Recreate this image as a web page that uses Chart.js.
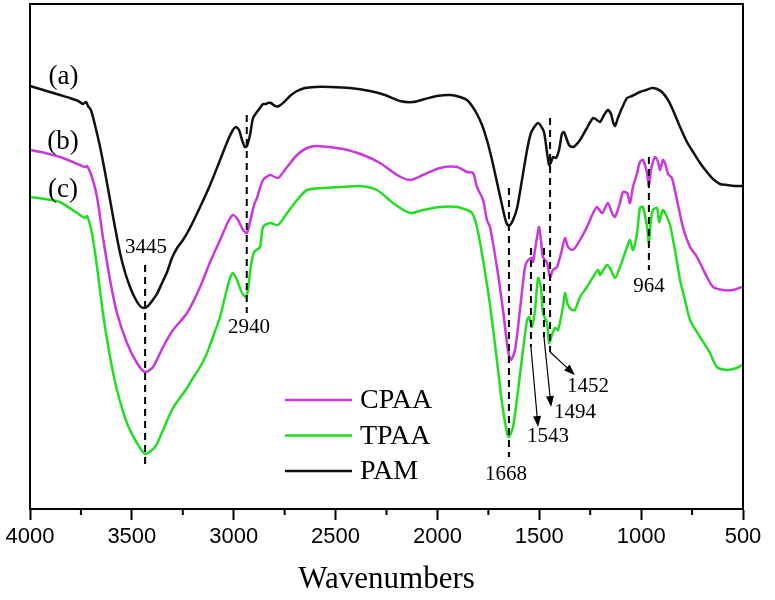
<!DOCTYPE html>
<html>
<head>
<meta charset="utf-8">
<script src="https://cdn.jsdelivr.net/npm/chart.js@4"></script>
<style>
  html, body { margin: 0; padding: 0; background: #fff; }
</style>
</head>
<body>
<canvas id="myChart" width="775" height="600"></canvas>
<script>
// wavenumbers (cm-1) and relative transmittance (arbitrary units)
const pamWn = [4000,3951,3902,3853,3804,3764,3740,3725,3715,3701,3681,3656,3632,3607,3583,3558,3534,3509,3485,3460,3440,3421,3401,3377,3352,3327,3303,3278,3249,3215,3165,3116,3067,3028,3004,2989,2974,2959,2945,2935,2920,2905,2886,2871,2856,2842,2832,2817,2797,2778,2753,2724,2689,2650,2601,2527,2429,2331,2257,2184,2120,2061,2002,1938,1889,1855,1830,1806,1781,1757,1732,1708,1683,1663,1649,1629,1609,1585,1560,1541,1521,1506,1492,1477,1467,1452,1442,1433,1418,1403,1389,1379,1369,1354,1339,1325,1300,1266,1236,1217,1202,1182,1163,1148,1138,1128,1114,1094,1069,1045,1006,976,947,922,898,868,844,809,775,745,711,677,647,613,579,539,505];
const pamT = [423,420,417,414,411,408,405,407,403,399,384,362,337,309,282,256,237,222,211,203,201,203,208,215,226,237,251,261,269,281,302,324,349,369,379,382,379,369,362,363,374,391,397,401,405,405,406,406,403,403,407,413,418,421,422,422,421,418,414,408,407,410,413,414,412,409,403,395,384,369,349,327,304,287,283,289,301,329,359,376,383,386,383,377,364,344,347,352,351,359,375,377,372,364,362,363,369,381,391,389,387,394,399,395,387,383,391,401,411,413,417,419,421,420,417,409,399,382,367,357,346,337,330,325,324,323,323];

const cpaaWn = [4000,3926,3853,3755,3730,3720,3696,3671,3642,3607,3573,3524,3475,3435,3396,3347,3298,3229,3165,3116,3067,3028,3004,2979,2954,2935,2920,2900,2886,2856,2822,2783,2738,2689,2640,2591,2464,2365,2282,2198,2135,2071,1987,1904,1855,1825,1806,1776,1757,1742,1708,1678,1654,1639,1619,1595,1570,1555,1536,1531,1511,1501,1492,1482,1462,1447,1433,1413,1389,1374,1359,1339,1325,1300,1266,1236,1217,1192,1163,1143,1128,1104,1089,1069,1055,1040,1020,1006,991,971,962,952,932,917,907,893,883,868,849,824,795,760,726,677,647,598,549,505];
const cpaaT = [359,356,352,344,342,343,332,312,272,229,196,166,146,137,142,162,179,196,222,247,269,287,294,289,279,276,287,304,311,329,334,331,342,354,361,363,360,354,346,334,329,334,341,342,337,336,322,309,289,282,242,199,159,149,159,199,242,249,251,247,272,282,269,252,246,232,239,242,259,271,262,259,261,269,282,296,302,296,306,296,292,306,317,316,306,322,336,347,349,336,323,339,352,347,339,349,346,335,331,309,282,262,252,232,222,219,219,222];

const tpaaWn = [4000,3926,3853,3755,3730,3720,3696,3671,3642,3607,3573,3524,3475,3435,3386,3347,3298,3229,3200,3165,3131,3102,3067,3043,3018,3004,2984,2959,2940,2930,2915,2900,2871,2856,2822,2783,2738,2689,2640,2562,2464,2380,2297,2218,2135,2071,1987,1904,1855,1830,1806,1776,1742,1708,1683,1658,1649,1629,1604,1580,1560,1550,1536,1521,1506,1492,1482,1462,1452,1438,1423,1408,1384,1374,1359,1339,1325,1300,1266,1236,1212,1202,1168,1153,1128,1104,1069,1055,1040,1020,1006,991,971,962,952,942,922,912,893,873,858,834,809,785,760,711,662,628,579,530,505];
const tpaaT = [312,310,307,294,291,293,276,242,196,152,119,86,66,55,62,79,101,121,131,142,156,172,192,212,231,236,229,216,212,219,244,257,262,282,286,284,296,309,319,321,322,323,319,306,296,299,302,302,299,296,282,249,204,149,106,76,72,82,119,159,189,192,182,199,231,222,196,186,166,174,181,179,202,216,204,199,199,212,222,232,239,234,244,241,231,242,262,269,259,276,301,302,282,266,289,299,301,287,299,292,284,259,229,209,189,172,156,142,139,141,144];

const xTicks = [4000, 3500, 3000, 2500, 2000, 1500, 1000, 500];

// peak marks: dashed line position, its ends, the label and where it sits
const peakLabels = ['3445', '2940', '1668', '1543', '1494', '1452', '964'];
const markWn = [3435, 2936, 1649, 1541, 1477, 1447, 962];
const markTop = [244, 394, 321, 261, 261, 391, 352];
const markBottom = [44, 196, 52, 162, 172, 157, 239];
const labelWn = [3431, 2925, 1663, 1457, 1325, 1261, 962];
const labelT = [262, 182, 35, 73, 97, 123, 223];
// arrows for the three small peaks (1543, 1494, 1452)
const arrowFromWn = [1541, 1477, 1447];
const arrowFromT = [162, 172, 157];
const arrowToWn = [1506, 1442, 1325];
const arrowToT = [82, 102, 134];

const tags = ['(a)', '(b)', '(c)'];
const tagWn = [3836, 3838, 3838];
const tagT = [432, 367, 319];

const legendNames = ['CPAA', 'TPAA', 'PAM'];
const colPam = '#111111';
const colCpaa = '#c838dc';
const colTpaa = '#22dd22';
const legendCols = [colCpaa, colTpaa, colPam];

function pts(xs, ys) {
  return xs.map((x, i) => ({ x: x, y: ys[i] }));
}

const decor = {
  id: 'decor',
  afterDatasetsDraw(chart) {
    const { ctx, chartArea: a, scales: { x, y } } = chart;
    ctx.save();
    ctx.strokeStyle = '#000';
    ctx.fillStyle = '#000';

    // frame
    ctx.lineWidth = 2;
    ctx.strokeRect(a.left, a.top, a.right - a.left, a.bottom - a.top);

    // minor ticks
    x.ticks.forEach((t) => {
      if (t.value % 500 !== 0) {
        const px = x.getPixelForValue(t.value);
        ctx.beginPath();
        ctx.moveTo(px, a.bottom);
        ctx.lineTo(px, a.bottom + 6);
        ctx.stroke();
      }
    });

    // dashed peak lines
    ctx.setLineDash([7, 5]);
    ctx.lineWidth = 2;
    markWn.forEach((w, i) => {
      const px = x.getPixelForValue(w);
      ctx.beginPath();
      ctx.moveTo(px, y.getPixelForValue(markTop[i]));
      ctx.lineTo(px, y.getPixelForValue(markBottom[i]));
      ctx.stroke();
    });
    ctx.setLineDash([]);

    // arrows
    ctx.lineWidth = 1.2;
    arrowFromWn.forEach((w, i) => {
      const x1 = x.getPixelForValue(w), y1 = y.getPixelForValue(arrowFromT[i]);
      const x2 = x.getPixelForValue(arrowToWn[i]), y2 = y.getPixelForValue(arrowToT[i]);
      const ang = Math.atan2(y2 - y1, x2 - x1);
      ctx.beginPath();
      ctx.moveTo(x1, y1);
      ctx.lineTo(x2 - 8 * Math.cos(ang), y2 - 8 * Math.sin(ang));
      ctx.stroke();
      ctx.beginPath();
      ctx.moveTo(x2, y2);
      ctx.lineTo(x2 - 11 * Math.cos(ang) + 4 * Math.sin(ang), y2 - 11 * Math.sin(ang) - 4 * Math.cos(ang));
      ctx.lineTo(x2 - 11 * Math.cos(ang) - 4 * Math.sin(ang), y2 - 11 * Math.sin(ang) + 4 * Math.cos(ang));
      ctx.closePath();
      ctx.fill();
    });

    // peak labels
    ctx.textAlign = 'center';
    ctx.textBaseline = 'middle';
    ctx.font = '21px "Liberation Serif"';
    peakLabels.forEach((s, i) => {
      ctx.fillText(s, x.getPixelForValue(labelWn[i]), y.getPixelForValue(labelT[i]));
    });

    // (a) (b) (c)
    ctx.font = '27px "Liberation Serif"';
    tags.forEach((s, i) => {
      ctx.fillText(s, x.getPixelForValue(tagWn[i]), y.getPixelForValue(tagT[i]));
    });

    // legend inside the plot
    ctx.textAlign = 'left';
    ctx.font = '28px "Liberation Serif"';
    legendNames.forEach((s, i) => {
      const ly = 400 + i * 35.5;
      ctx.strokeStyle = legendCols[i];
      ctx.lineWidth = 2.5;
      ctx.beginPath();
      ctx.moveTo(285, ly);
      ctx.lineTo(352, ly);
      ctx.stroke();
      ctx.fillText(s, 360, ly + 1);
    });
    ctx.restore();
  }
};

const config = {
  type: 'line',
  data: {
    datasets: [
      { label: 'PAM', data: pts(pamWn, pamT), borderColor: colPam },
      { label: 'CPAA', data: pts(cpaaWn, cpaaT), borderColor: colCpaa },
      { label: 'TPAA', data: pts(tpaaWn, tpaaT), borderColor: colTpaa }
    ]
  },
  options: {
    responsive: false,
    animation: false,
    devicePixelRatio: 1,
    layout: { padding: { top: 4, right: 32, left: 0, bottom: 0 } },
    elements: {
      point: { radius: 0 },
      line: { borderWidth: 2.5, tension: 0.25, fill: false }
    },
    plugins: {
      legend: { display: false },
      tooltip: { enabled: false }
    },
    scales: {
      x: {
        type: 'linear',
        reverse: true,
        min: 500,
        max: 4000,
        afterFit: (s) => { s.height = 91; },
        border: { display: true, color: '#000', width: 2 },
        grid: {
          display: true,
          drawOnChartArea: false,
          tickLength: 11,
          tickWidth: 2,
          tickColor: (c) => (c.tick && xTicks.includes(c.tick.value) ? '#000' : 'rgba(0,0,0,0)')
        },
        ticks: {
          stepSize: 250,
          autoSkip: false,
          maxRotation: 0,
          padding: 4,
          color: '#000',
          font: { family: '"Liberation Sans", Arial, sans-serif', size: 22 },
          callback: (v) => (xTicks.includes(v) ? String(v) : '')
        },
        title: {
          display: true,
          text: 'Wavenumbers',
          color: '#000',
          font: { family: '"Liberation Serif", "Times New Roman", serif', size: 31 },
          padding: { top: 0, bottom: 2 }
        }
      },
      y: {
        type: 'linear',
        min: 0,
        max: 505,
        afterFit: (s) => { s.width = 30; },
        border: { display: true, color: '#000', width: 2 },
        grid: { display: false },
        ticks: { display: false }
      }
    }
  },
  plugins: [decor]
};

var myChart = new Chart(document.getElementById('myChart'), config);
</script>
</body>
</html>
